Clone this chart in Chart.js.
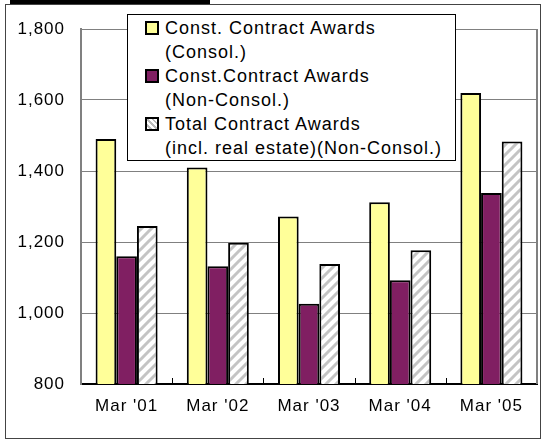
<!DOCTYPE html>
<html><head><meta charset="utf-8">
<script src="https://cdn.jsdelivr.net/npm/chart.js@4.4.0/dist/chart.umd.min.js"></script>
<style>
html,body{margin:0;padding:0;background:#fff;width:541px;height:439px;overflow:hidden;}
#wrap{position:relative;width:541px;height:439px;}
#frame{position:absolute;left:5px;top:4px;width:536px;height:435px;border:1px solid #444;box-sizing:border-box;}
#topbar{position:absolute;left:10px;top:0;width:200px;height:4px;background:#000;}
#c{position:absolute;left:0;top:0;}
#legend{position:absolute;left:127px;top:14px;width:329px;height:147px;border:1px solid #000;background:#fff;box-sizing:border-box;font-family:"Liberation Sans",Arial,sans-serif;font-size:18px;letter-spacing:1px;padding-top:1px;color:#000;}
.line{position:relative;height:24px;line-height:24px;padding-left:37px;white-space:nowrap;}
.sw{position:absolute;left:17px;top:5px;width:14px;height:14px;border:2px solid #000;box-sizing:border-box;}
</style></head>
<body><div id="wrap">
<div id="frame"></div>
<div id="topbar"></div>
<canvas id="c" width="541" height="439"></canvas>
<div id="legend"></div>
</div>
<script>
const categories = ["Mar '01", "Mar '02", "Mar '03", "Mar '04", "Mar '05"];
const consolAwards = [1490, 1410, 1272, 1312, 1620];
const nonConsolAwards = [1160, 1132, 1026, 1092, 1338];
const totalAwards = [1245, 1198, 1138, 1177, 1483];
const yTicks = [800, 1000, 1200, 1400, 1600, 1800];
const seriesLabels = [
  ["Const. Contract Awards", "(Consol.)"],
  ["Const.Contract Awards", "(Non-Consol.)"],
  ["Total Contract Awards", "(incl. real estate)(Non-Consol.)"]
];
const yellow = '#FFFF99', purple = '#801F62';

function hatch(){
  const c = document.createElement('canvas'); c.width = 10; c.height = 10;
  const g = c.getContext('2d');
  g.fillStyle = '#fff'; g.fillRect(0,0,10,10);
  g.strokeStyle = '#c4c4c4'; g.lineWidth = 3;
  g.beginPath();
  g.moveTo(-2,12); g.lineTo(12,-2);
  g.moveTo(-2,2); g.lineTo(2,-2);
  g.moveTo(8,12); g.lineTo(12,8);
  g.stroke();
  return g.createPattern(c,'repeat');
}
const hatchFill = hatch();

// HTML legend built from series labels
const lg = document.getElementById('legend');
const swatchBg = [yellow, purple, 'repeating-linear-gradient(45deg,#fff 0 2px,#bbb 2px 4px)'];
seriesLabels.forEach((lines, i) => {
  lines.forEach((t, j) => {
    const d = document.createElement('div'); d.className = 'line'; d.textContent = t;
    if (j === 0) { const s = document.createElement('span'); s.className = 'sw'; s.style.background = swatchBg[i]; d.appendChild(s); }
    lg.appendChild(d);
  });
});

const spacing = {id:'spacing',
  beforeUpdate(c){ c.ctx.letterSpacing = '1px'; },
  beforeDraw(c){ c.ctx.letterSpacing = '1px'; }};
const frame = {id:'frame',
  afterDraw(c){
    const {ctx, chartArea:a, scales:{x}} = c;
    ctx.save();
    ctx.strokeStyle = '#808080'; ctx.lineWidth = 2;
    ctx.beginPath(); ctx.moveTo(a.right, a.top); ctx.lineTo(a.right, a.bottom); ctx.stroke();
    ctx.strokeStyle = '#000'; ctx.lineWidth = 1;
    ctx.beginPath();
    for (let i = 0; i < categories.length - 1; i++) {
      const px = Math.round((x.getPixelForValue(i) + x.getPixelForValue(i+1)) / 2) + 0.5;
      ctx.moveTo(px, a.bottom); ctx.lineTo(px, a.bottom - 6);
    }
    ctx.stroke();
    ctx.restore();
  }};

const font = {family:'"Liberation Sans", Arial, sans-serif', size:17};
new Chart(document.getElementById('c'), {
  type:'bar',
  data:{
    labels:categories,
    datasets:[
      {label:seriesLabels[0].join(' '), data:consolAwards, backgroundColor:yellow, borderColor:'#000', borderWidth:2},
      {label:seriesLabels[1].join(' '), data:nonConsolAwards, backgroundColor:purple, borderColor:'#000', borderWidth:2},
      {label:seriesLabels[2].join(' '), data:totalAwards, backgroundColor:hatchFill, borderColor:'#000', borderWidth:2}
    ]
  },
  options:{
    responsive:false, animation:false,
    categoryPercentage:0.68, barPercentage:1,
    layout:{padding:{left:0,right:4,top:29,bottom:0}},
    plugins:{legend:{display:false}, tooltip:{enabled:false}},
    scales:{
      x:{grid:{display:false,drawTicks:false}, border:{display:true,color:'#000',width:2},
         ticks:{color:'#000',font:font,padding:12,maxRotation:0,autoSkip:false},
         afterFit(s){ s.height = 55; }},
      y:{min:800,max:1800,
         afterBuildTicks(s){ s.ticks = yTicks.map(v => ({value:v})); },
         grid:{color:'#808080',lineWidth:1,drawTicks:false},
         border:{display:true,color:'#808080',width:2},
         ticks:{color:'#000',font:font,padding:16,callback:v => v.toLocaleString('en-US')},
         afterFit(s){ s.width = 81; }}
    }
  },
  plugins:[spacing, frame]
});
</script>
</body></html>
